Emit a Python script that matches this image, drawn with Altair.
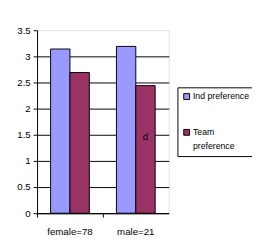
import altair as alt
import pandas as pd

categories = ["female=78", "male=21"]
series = ["Ind preference", "Team preference"]
ind_values = [3.14, 3.19]
team_values = [2.69, 2.44]
colors = ["#9999FF", "#993366"]
y_ticks = [0, 0.5, 1, 1.5, 2, 2.5, 3, 3.5]

rows = []
for c, a, b in zip(categories, ind_values, team_values):
    rows.append({"cat": c, "series": series[0], "value": a})
    rows.append({"cat": c, "series": series[1], "value": b})
df = pd.DataFrame(rows)

note = pd.DataFrame([{"cat": "male=21", "series": "Team preference", "value": 1.45, "txt": "d"}])

FONT = "Liberation Sans"

x_scale = alt.Scale(domain=categories, paddingInner=0, paddingOuter=0)
xo_scale = alt.Scale(domain=series, paddingInner=0, paddingOuter=0.7)
y_scale = alt.Scale(domain=[0, 3.5], nice=False)

x_axis = alt.Axis(labelAngle=0, bandPosition=0,
                  domainColor="black", tickColor="black", tickSize=4,
                  labelPadding=10, labelFontSize=10, labelFont=FONT,
                  labelColor="black")
y_axis = alt.Axis(values=y_ticks, format="~g", grid=True,
                  gridColor="black", gridWidth=1,
                  gridOpacity={"condition": {"test": "datum.value >= 3.4", "value": 0}, "value": 1},
                  domainColor="black", tickColor="black", tickSize=4,
                  labelPadding=3, labelFontSize=10, labelFont=FONT,
                  labelColor="black")

bars = alt.Chart(df).mark_bar(stroke="black", strokeWidth=1).encode(
    x=alt.X("cat:N", title=None, scale=x_scale, axis=x_axis),
    xOffset=alt.XOffset("series:N", scale=xo_scale),
    y=alt.Y("value:Q", title=None, scale=y_scale, axis=y_axis),
    color=alt.Color("series:N", title=None,
                    scale=alt.Scale(domain=series, range=colors),
                    legend=alt.Legend(orient="none", legendX=145, legendY=59,
                                      symbolType="square", symbolSize=36,
                                      symbolStrokeColor="black", symbolStrokeWidth=1,
                                      labelFontSize=9, labelFont=FONT, labelColor="black",
                                      labelOffset=2,
                                      labelExpr="datum.label == 'Team preference' ? ['Team', 'preference'] : datum.label",
                                      rowPadding=26, padding=5, strokeColor="black",
                                      fillColor="white", labelLimit=200)),
)

text = alt.Chart(note).mark_text(fontSize=10, font=FONT, color="black").encode(
    x=alt.X("cat:N", title=None, scale=x_scale, axis=x_axis),
    xOffset=alt.XOffset("series:N", scale=xo_scale),
    y=alt.Y("value:Q", title=None, scale=y_scale, axis=y_axis),
    text="txt:N",
)

chart = alt.layer(bars, text).properties(
    width=136, height=189,
    autosize=alt.AutoSizeParams(type="none"),
    padding={"left": 30, "top": 19, "right": 86, "bottom": 32},
    background="white",
).configure_view(
    fill="#C0C0C0", stroke="#999999", strokeWidth=1
).configure(style={"guide-label": {"lineHeight": 14}})

chart.save("out.html", embed_options={"renderer": "svg", "actions": False})
